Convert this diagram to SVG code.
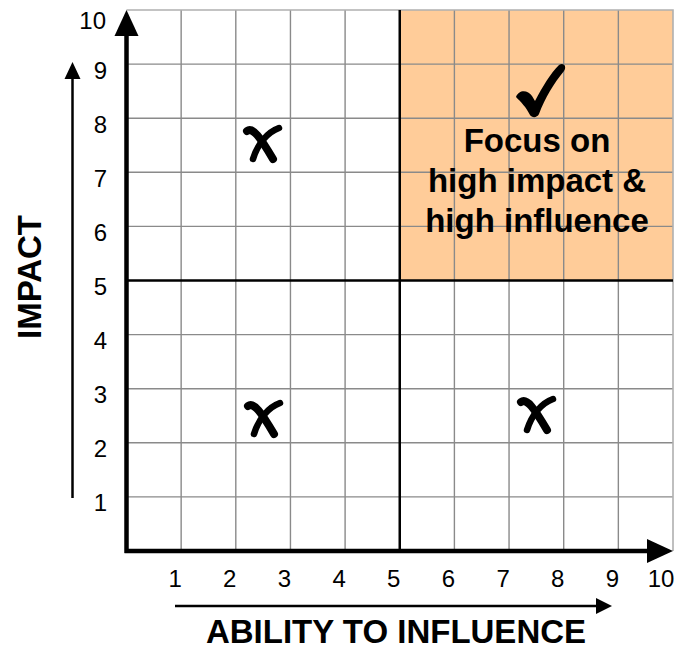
<svg xmlns="http://www.w3.org/2000/svg" width="679" height="650" viewBox="0 0 679 650">
  <style>
    .grid { stroke: #8a8a8a; stroke-width: 1.4; fill: none; }
    .edge { stroke: #b0b0b0; stroke-width: 1.6; fill: none; }
    .mid { stroke: #000; stroke-width: 2.5; fill: none; }
    .axis { stroke: #000; stroke-width: 4.5; fill: none; }
    .thin { stroke: #000; stroke-width: 2.5; fill: none; }
    .tick { font-family: "Liberation Sans", Arial, sans-serif; font-size: 24px; fill: #000; }
    .title { font-family: "Liberation Sans", Arial, sans-serif; font-size: 33px; font-weight: bold; fill: #000; }
    .mark { stroke: #000; fill: none; stroke-linecap: round; stroke-linejoin: round; }
  </style>
  <defs>
    <g id="cross">
      <path class="mark" stroke-width="8" d="M -15,-12 C -9,-16 -2,-6 11,16"/>
      <path class="mark" stroke-width="6.5" d="M 17,-15 C 6,-11 -4,0 -9,16"/>
    </g>
  </defs>

  <rect width="679" height="650" fill="#fff"/>

  <!-- upper-right quadrant -->
  <g id="quadrant">
    <rect x="399.75" y="10" width="273.25" height="270.5" fill="#ffcc99"/>
  </g>

  <!-- grid -->
  <g id="grid">
    <path class="grid" d="M181.15,10V551 M235.8,10V551 M290.45,10V551 M345.1,10V551 M454.4,10V551 M509.05,10V551 M563.7,10V551 M618.35,10V551"/>
    <path class="grid" d="M126.5,496.9H673 M126.5,442.8H673 M126.5,388.7H673 M126.5,334.6H673 M126.5,226.4H673 M126.5,172.3H673 M126.5,118.2H673 M126.5,64.1H673"/>
    <path class="edge" d="M126.5,10H673V551"/>
    <path class="mid" d="M399.75,10V551 M126.5,280.5H673"/>
  </g>

  <!-- axes and direction arrows -->
  <g id="connectors">
    <path class="axis" d="M126.5,553V30 M124.5,551H652"/>
    <polygon points="126.5,10 114.5,36 138.5,36" fill="#000"/>
    <polygon points="673,551 647,539 647,563" fill="#000"/>
    <path class="thin" d="M72.5,498V76"/>
    <polygon points="72.5,62 64.5,79 80.5,79" fill="#000"/>
    <path class="thin" d="M175,606H598"/>
    <polygon points="612,606 596,598 596,614" fill="#000"/>
  </g>

  <!-- tick labels -->
  <g id="y-ticks" class="tick" text-anchor="end">
    <text x="106" y="29">10</text>
    <text x="107" y="78.6">9</text>
    <text x="107" y="132.7">8</text>
    <text x="107" y="186.8">7</text>
    <text x="107" y="240.9">6</text>
    <text x="107" y="295">5</text>
    <text x="107" y="349.1">4</text>
    <text x="107" y="403.2">3</text>
    <text x="107" y="457.3">2</text>
    <text x="107" y="511.4">1</text>
  </g>
  <g id="x-ticks" class="tick" text-anchor="middle">
    <text x="175.2" y="587">1</text>
    <text x="229.8" y="587">2</text>
    <text x="284.5" y="587">3</text>
    <text x="339.1" y="587">4</text>
    <text x="393.8" y="587">5</text>
    <text x="448.4" y="587">6</text>
    <text x="503.1" y="587">7</text>
    <text x="557.7" y="587">8</text>
    <text x="612.4" y="587">9</text>
    <text x="661" y="587">10</text>
  </g>

  <!-- axis titles -->
  <g id="x-title">
    <text class="title" x="396" y="643" text-anchor="middle">ABILITY TO INFLUENCE</text>
  </g>
  <g id="y-title">
    <text class="title" transform="translate(41,277) rotate(-90)" text-anchor="middle">IMPACT</text>
  </g>

  <!-- rejected quadrants -->
  <g id="cross-top-left"><use href="#cross" x="262" y="143"/></g>
  <g id="cross-bottom-left"><use href="#cross" x="263" y="418"/></g>
  <g id="cross-bottom-right"><use href="#cross" x="536" y="414"/></g>

  <!-- chosen quadrant -->
  <g id="focus">
    <path fill="#000" d="M516,97 C519,89 528,90 532,96 L535,101 C543,86 550,74 559,65 C564,62 567,67 564,71 C554,83 545,98 539,114 C537,118 532,118 530,115 C526,107 521,102 516,97 Z"/>
    <text class="title" text-anchor="middle" x="537" y="152">Focus on</text>
    <text class="title" text-anchor="middle" x="537" y="192">high impact &amp;</text>
    <text class="title" text-anchor="middle" x="537" y="232">high influence</text>
  </g>
</svg>
